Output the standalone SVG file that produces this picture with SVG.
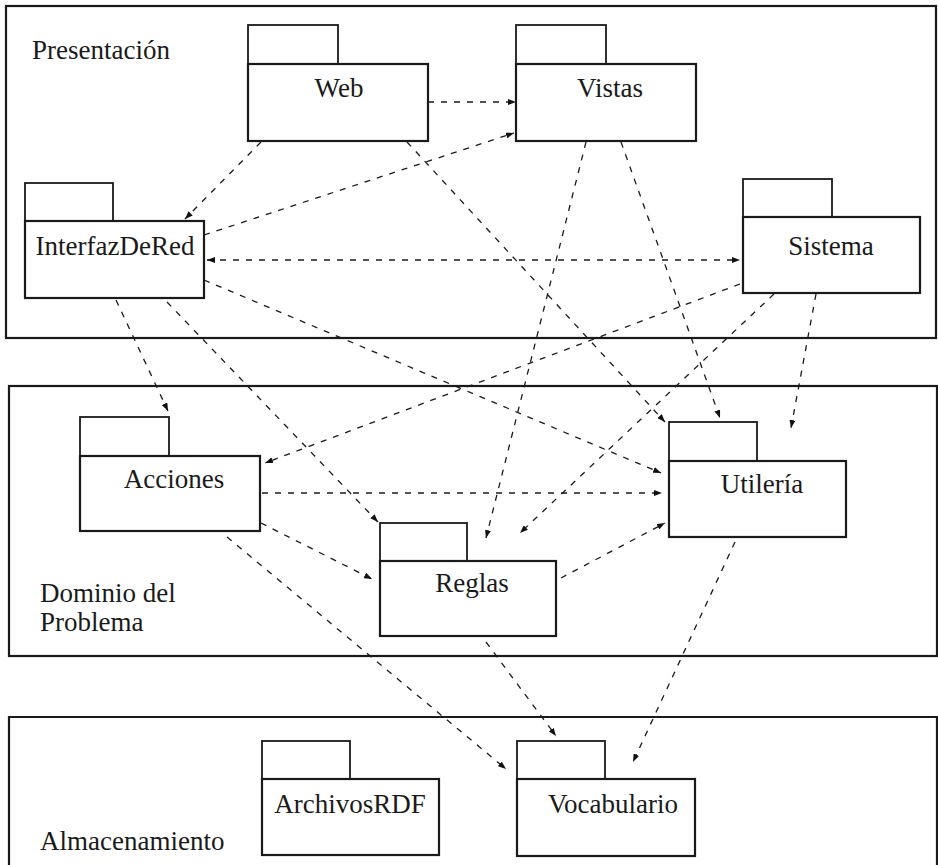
<svg xmlns="http://www.w3.org/2000/svg" width="938" height="865" viewBox="0 0 938 865">
  <defs>
    <marker id="arrow" viewBox="0 0 8 6" refX="8" refY="3" markerWidth="8" markerHeight="6" markerUnits="userSpaceOnUse" orient="auto-start-reverse">
      <path d="M0,0 L8,3 L0,6 z" fill="#111"/>
    </marker>
    <style>
      .layer { fill: none; stroke: #1a1a1a; stroke-width: 2.2; }
      .tab, .body { fill: #fff; stroke: #1a1a1a; stroke-width: 2.2; }
      .tab { stroke-width: 1.8; }
      .dep { fill: none; stroke: #1a1a1a; stroke-width: 1.3; stroke-dasharray: 6 7; marker-end: url(#arrow); }
      .both { marker-start: url(#arrow); }
      text { font-family: "Liberation Serif", "Times New Roman", serif; font-size: 27px; fill: #1a1a1a; }
      .name { text-anchor: middle; }
    </style>
  </defs>
  <rect width="938" height="865" fill="#fff"/>

  <!-- Layers -->
  <g id="layers">
    <rect class="layer" x="6" y="6" width="930" height="332"/>
    <rect class="layer" x="9" y="386" width="928" height="270"/>
    <path class="layer" d="M9,875 V717 H937 V875"/>
    <text x="32" y="59">Presentación</text>
    <text x="40" y="602">Dominio del</text>
    <text x="40" y="631">Problema</text>
    <text x="40" y="850">Almacenamiento</text>
  </g>

  <!-- Dependencies -->
  <g id="connectors">
    <line class="dep" x1="428" y1="102" x2="516" y2="102"/>
    <line class="dep" x1="261" y1="142" x2="185" y2="219"/>
    <line class="dep" x1="204" y1="235" x2="514" y2="133"/>
    <line class="dep" x1="407" y1="142" x2="665" y2="422"/>
    <line class="dep both" x1="207" y1="260" x2="740" y2="260"/>
    <line class="dep" x1="204" y1="280" x2="661" y2="473"/>
    <line class="dep" x1="116" y1="300" x2="168" y2="411"/>
    <line class="dep" x1="167" y1="302" x2="378" y2="522"/>
    <line class="dep" x1="586" y1="142" x2="486" y2="538"/>
    <line class="dep" x1="621" y1="142" x2="720" y2="418"/>
    <line class="dep" x1="740" y1="284" x2="265" y2="463"/>
    <line class="dep" x1="774" y1="294" x2="520" y2="533"/>
    <line class="dep" x1="816" y1="294" x2="791" y2="428"/>
    <line class="dep" x1="262" y1="493" x2="662" y2="493"/>
    <line class="dep" x1="261" y1="523" x2="372" y2="579"/>
    <line class="dep" x1="561" y1="578" x2="665" y2="523"/>
    <line class="dep" x1="227" y1="537" x2="506" y2="769"/>
    <line class="dep" x1="486" y1="642" x2="556" y2="736"/>
    <line class="dep" x1="735" y1="542" x2="633" y2="762"/>
  </g>

  <!-- Packages -->
  <g id="web">
    <rect class="tab" x="248" y="25" width="90" height="39"/>
    <rect class="body" x="248" y="64" width="180" height="77"/>
    <text class="name" x="339" y="97">Web</text>
  </g>
  <g id="vistas">
    <rect class="tab" x="516" y="25" width="90" height="39"/>
    <rect class="body" x="516" y="64" width="180" height="77"/>
    <text class="name" x="610" y="97">Vistas</text>
  </g>
  <g id="interfazdered">
    <rect class="tab" x="25" y="183" width="88" height="38"/>
    <rect class="body" x="25" y="221" width="179" height="77"/>
    <text class="name" x="115" y="255">InterfazDeRed</text>
  </g>
  <g id="sistema">
    <rect class="tab" x="743" y="179" width="89" height="38"/>
    <rect class="body" x="743" y="217" width="177" height="76"/>
    <text class="name" x="831" y="255">Sistema</text>
  </g>
  <g id="acciones">
    <rect class="tab" x="80" y="417" width="89" height="39"/>
    <rect class="body" x="80" y="456" width="180" height="75"/>
    <text class="name" x="174" y="488">Acciones</text>
  </g>
  <g id="reglas">
    <rect class="tab" x="380" y="523" width="87" height="38"/>
    <rect class="body" x="380" y="561" width="176" height="75"/>
    <text class="name" x="472" y="592">Reglas</text>
  </g>
  <g id="utileria">
    <rect class="tab" x="669" y="422" width="88" height="39"/>
    <rect class="body" x="669" y="461" width="177" height="76"/>
    <text class="name" x="762" y="493">Utilería</text>
  </g>
  <g id="archivosrdf">
    <rect class="tab" x="262" y="741" width="88" height="38"/>
    <rect class="body" x="262" y="779" width="177" height="76"/>
    <text class="name" x="350" y="813">ArchivosRDF</text>
  </g>
  <g id="vocabulario">
    <rect class="tab" x="517" y="741" width="88" height="38"/>
    <rect class="body" x="517" y="779" width="178" height="77"/>
    <text class="name" x="613" y="813">Vocabulario</text>
  </g>
</svg>
